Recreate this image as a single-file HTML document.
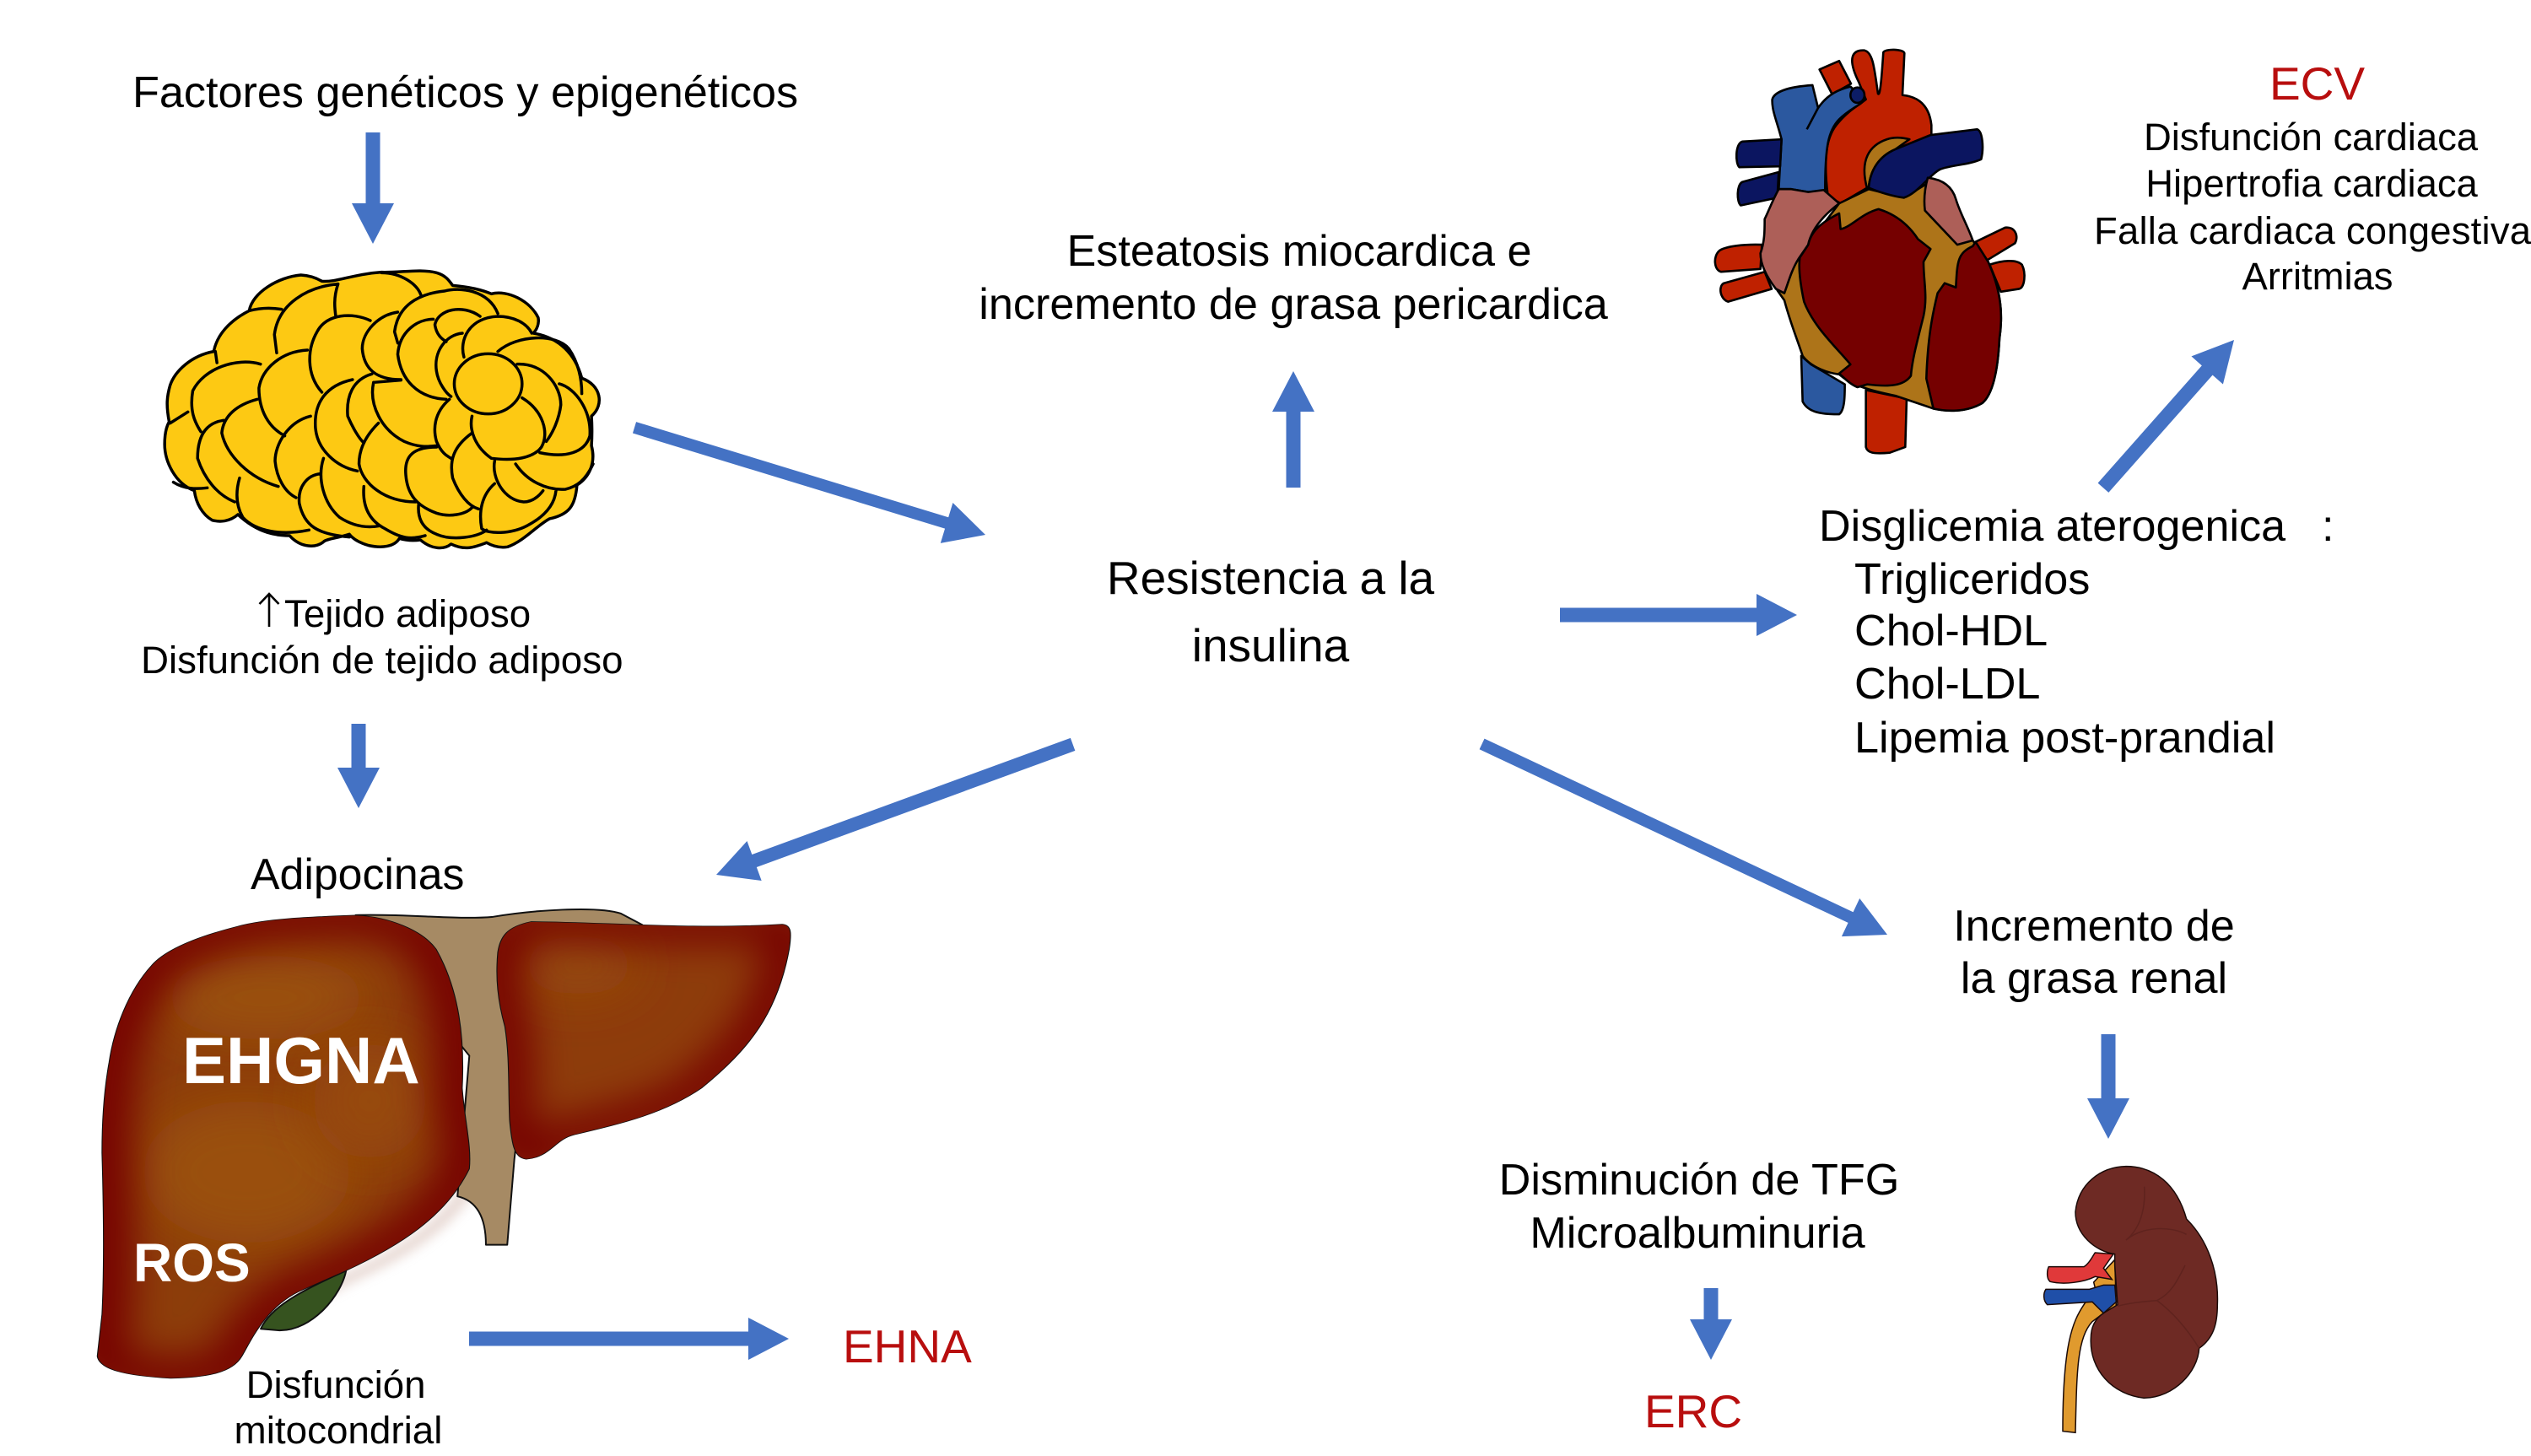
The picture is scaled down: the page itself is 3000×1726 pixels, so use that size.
<!DOCTYPE html>
<html><head><meta charset="utf-8"><style>
html,body{margin:0;padding:0;background:#fff}
svg{display:block}
text{font-family:"Liberation Sans",Arial,sans-serif;fill:#000}
.a{fill:#4472c4}
.c{text-anchor:middle}
.f{fill:none;stroke:#000;stroke-width:3.5;vector-effect:non-scaling-stroke;stroke-linecap:round;stroke-linejoin:round}
.h path,.h ellipse{stroke:#000;stroke-width:2.6;vector-effect:non-scaling-stroke;stroke-linejoin:round}
.l path.o{stroke:#111;stroke-width:2;vector-effect:non-scaling-stroke;stroke-linejoin:round}
.k path{stroke:#1a0a08;stroke-width:1.5;vector-effect:non-scaling-stroke}
</style></head><body>
<svg width="3000" height="1726" viewBox="0 0 3000 1726" xmlns="http://www.w3.org/2000/svg">
<defs>
<filter id="b1" filterUnits="userSpaceOnUse" x="-300" y="-300" width="2200" height="2200"><feGaussianBlur stdDeviation="42 60"/></filter>
<filter id="b2" filterUnits="userSpaceOnUse" x="-300" y="-300" width="2200" height="2200"><feGaussianBlur stdDeviation="50 70"/></filter>
<filter id="b3" filterUnits="userSpaceOnUse" x="-300" y="-300" width="2200" height="2200"><feGaussianBlur stdDeviation="14 18"/></filter>
<path id="rl" d="M590 65C500 70 400 75 340 100C260 130 190 170 160 220C110 300 80 420 70 520C60 600 55 700 55 800C58 950 60 1150 55 1300L45 1430C50 1470 100 1490 200 1498C280 1495 330 1480 350 1430C370 1380 400 1280 470 1230L570 1165C680 1090 780 1000 830 850C835 780 820 700 815 600C820 450 810 300 760 170C730 110 660 70 590 65Z"/>
<path id="ll" d="M960 85C1100 85 1300 110 1490 93C1510 95 1510 120 1505 170C1480 370 1420 480 1320 600C1240 680 1150 710 1050 745C1010 760 1000 815 950 820C925 815 920 780 915 700C912 600 915 500 905 410C890 330 885 260 890 180C895 130 910 100 960 85Z"/>
<clipPath id="crl"><use href="#rl"/></clipPath>
<clipPath id="cll"><use href="#ll"/></clipPath>
</defs>
<rect width="3000" height="1726" fill="#fff"/>

<!-- fat -->
<g transform="translate(150,280) scale(.3827,.3333)">
<path class="f" style="fill:#fdc913" d="M132 660C122 600 125 570 135 530C150 480 200 425 270 410C280 350 320 300 380 265C390 200 470 145 540 138C570 140 590 150 605 160C650 165 700 135 790 128C850 130 910 115 960 130C990 140 1000 160 1010 175C1060 180 1100 190 1130 205C1180 190 1250 230 1275 290C1278 310 1272 330 1260 345C1340 360 1390 420 1410 505C1470 530 1480 600 1440 640C1442 680 1442 710 1440 745C1455 810 1430 860 1395 885C1390 960 1370 990 1310 1005C1270 1030 1230 1085 1180 1105C1150 1110 1130 1100 1115 1090C1080 1105 1050 1120 1005 1095C985 1115 945 1115 910 1080C880 1085 860 1080 845 1075C830 1105 790 1110 750 1100C720 1090 700 1075 690 1060C650 1075 625 1075 612 1085C590 1110 540 1110 505 1065C470 1065 410 1060 345 990C320 1015 290 1018 265 1010C235 990 215 950 210 905C150 880 118 800 118 740C118 710 122 680 132 660Z"/>
<path class="f" d="M380 265Q430 250 480 260M655 170C560 180 470 240 458 350L465 415M655 170C640 220 645 260 648 285M790 130C850 130 900 170 912 210M755 300C700 270 620 275 590 340C560 400 555 490 605 555M840 270C780 280 730 340 730 400C735 470 770 510 850 510M985 195C900 205 840 250 830 340L840 380M950 295C900 295 845 340 840 420C850 510 900 575 990 580M985 195C1030 180 1120 190 1150 275M1095 285C1040 240 965 260 955 315C960 350 975 365 990 375M1040 345C990 350 950 410 960 480C965 520 990 560 1005 570M1045 430C1030 370 1060 290 1150 285C1200 285 1240 310 1255 345M1150 410C1210 350 1330 345 1370 400C1400 450 1410 510 1410 560M1210 455C1290 450 1345 530 1345 600C1340 650 1320 700 1300 730M1340 525C1390 540 1440 620 1435 710C1420 770 1360 790 1280 770M1225 575C1290 620 1310 700 1285 750C1260 790 1200 800 1130 790C1080 750 1060 690 1070 640M1205 810C1240 870 1300 905 1360 900C1395 890 1420 870 1445 810M1140 800C1130 860 1170 940 1230 945C1260 945 1280 920 1290 905M1140 880C1100 920 1090 980 1100 1040C1120 1060 1190 1060 1240 1030C1290 1000 1325 960 1330 905M1070 700C1010 750 1000 800 1010 860C1030 920 1060 960 1090 970M1000 580C950 630 950 690 960 730C975 770 990 780 1005 790M765 520C750 600 790 690 860 730C900 750 930 750 960 745M850 512L765 520M700 510C620 530 580 590 585 680C590 760 650 820 715 835M760 490C700 510 680 570 685 640C700 680 720 720 735 735M780 665C740 710 720 760 720 810C730 880 800 945 895 945M960 750C880 750 860 790 865 850C870 920 900 960 960 985C1000 1000 1050 990 1070 965M905 950C900 1000 915 1040 960 1060C1010 1085 1090 1070 1115 1045M735 890C730 960 750 1010 800 1040C850 1075 880 1080 925 1065M610 790C590 860 610 950 660 1000C700 1030 740 1040 785 1030M600 845C560 850 530 890 535 950C550 1030 590 1060 690 1070M570 640C500 660 460 740 460 800C465 860 490 910 525 930M560 405C480 410 420 470 410 540C410 620 440 680 490 710M405 580C340 600 300 640 295 700C310 780 380 860 470 890M300 655C240 665 220 720 220 790C240 860 280 920 335 945M415 455C340 430 240 470 205 550C195 620 210 660 230 695M190 625L135 665M350 860C340 900 335 950 360 1000C400 1050 480 1065 565 1045M145 875C180 900 215 900 250 895M275 410L280 450"/>
<ellipse class="f" style="fill:#fdc913" cx="1120" cy="525" rx="105" ry="107"/>
</g>

<!-- heart -->
<g class="h" transform="translate(1980,30) scale(.3333,.3378)">
<path fill="#bf2100" d="M325 770C260 768 200 775 175 790C150 810 155 860 180 865L320 855Z"/>
<path fill="#bf2100" d="M335 865L190 905C170 915 175 960 205 970L360 925Z"/>
<path fill="#bf2100" d="M1085 760L1190 710C1225 705 1240 740 1225 765L1125 825Z"/>
<path fill="#bf2100" d="M1135 840C1180 825 1230 820 1250 840C1265 870 1260 920 1240 925L1175 935Z"/>
<path fill="#bf2100" d="M695 1280L695 1480C700 1500 720 1505 780 1500L835 1480L840 1310Z"/>
<path fill="#bf2100" d="M530 155L600 125L642 205L575 242Z"/>
<path fill="#2b589f" d="M465 1160L470 1320C490 1360 540 1365 600 1365C620 1350 620 1300 620 1260L500 1190Z"/>
<path fill="#bf2100" d="M560 600C545 480 550 400 590 350C630 300 670 280 695 260L670 200C625 110 650 85 690 88C720 95 725 150 738 240C745 250 750 200 757 95C762 82 828 82 832 98L825 245C880 250 920 280 928 350L928 390L700 570L605 625Z"/>
<path fill="#2b589f" d="M385 575L395 400C380 340 360 300 362 260C370 230 430 215 505 210L525 290C560 240 600 225 640 215L690 260C680 280 640 290 600 330C560 370 550 430 550 580L490 585L430 575Z"/>
<path fill="none" d="M525 290L485 365"/>
<ellipse fill="#0c1d66" cx="665" cy="245" rx="25" ry="27"/>
<path fill="#0b1560" d="M395 400L255 408C230 415 230 485 245 498L390 495Z"/>
<path fill="#0b1560" d="M385 515L255 550C235 560 235 620 250 632L380 605Z"/>
<path fill="#ad7419" d="M700 575C670 470 710 420 770 400C800 390 830 395 850 400L800 435C740 460 710 510 705 570Z"/>
<path fill="#ad7419" d="M380 930L405 965C425 1040 450 1100 470 1160C500 1200 560 1220 600 1225C640 1260 700 1280 800 1300L935 1345C980 1355 1050 1360 1110 1325C1150 1290 1165 1200 1170 1100C1185 1000 1170 920 1130 830L1075 755L905 560L830 605L705 575L600 625L450 820Z"/>
<path fill="#0b1560" d="M705 570C710 510 740 460 800 435L925 385L1090 365C1110 370 1115 430 1105 470C1060 490 1000 490 960 505C920 525 880 590 830 605C790 600 740 585 705 570Z"/>
<path fill="#ad5f58" d="M385 575L430 575L490 585L545 578L600 625C540 670 500 720 490 770L455 820C430 860 420 900 405 940L375 925C340 880 320 840 320 800C335 760 335 720 335 680C350 650 360 620 385 575Z"/>
<path fill="#ad5f58" d="M915 535C960 540 1000 560 1015 610C1030 660 1060 710 1075 755L1020 770L905 650C900 610 905 570 915 535Z"/>
<path fill="#750000" d="M600 660L605 715C640 710 680 660 740 645C790 660 840 690 880 750L925 785L900 830C900 900 915 950 900 1020C880 1100 860 1170 855 1230C830 1265 780 1270 700 1260L665 1270C640 1260 620 1240 600 1222L640 1190C590 1130 510 1060 475 970C460 900 455 850 460 815L490 770C500 720 540 690 600 660Z"/>
<path fill="#750000" d="M1075 775C1020 800 1020 830 1015 920L975 905L950 940C930 1020 915 1100 910 1240L935 1345C980 1355 1050 1360 1110 1325C1150 1290 1165 1200 1170 1100C1185 1000 1170 920 1130 830L1085 760Z"/>
</g>

<!-- liver -->
<g class="l" transform="translate(90,1060) scale(.5618,.3831)">
<path d="M830 850C780 1000 680 1090 570 1165L470 1240" fill="none" stroke="#c9a69a" stroke-width="26" opacity=".55" filter="url(#b3)" transform="translate(14 16)"/>
<path class="o" fill="#a68a64" d="M590 65C700 60 800 80 880 70C960 50 1100 35 1150 60L1195 95L1100 150L1000 300L950 500L925 820L910 1085L865 1085C865 1010 850 950 805 935L830 500Z"/>
<path class="o" fill="#36531f" d="M570 1165C560 1240 500 1350 430 1350L390 1345C410 1280 470 1230 570 1165Z"/>
<g clip-path="url(#crl)">
<use href="#rl" fill="#8d3d0a"/>
<ellipse cx="400" cy="320" rx="210" ry="130" fill="#9a500e" filter="url(#b2)"/>
<ellipse cx="360" cy="860" rx="220" ry="220" fill="#9a500e" filter="url(#b2)"/>
<ellipse cx="620" cy="640" rx="120" ry="180" fill="#974a0d" filter="url(#b2)"/>
<use href="#rl" fill="none" stroke="#760602" stroke-width="120" filter="url(#b1)"/>
</g>
<use class="o" href="#rl" fill="none" stroke="#111" stroke-width="2" style="vector-effect:non-scaling-stroke"/>
<g clip-path="url(#cll)">
<use href="#ll" fill="#8e3c0b"/>
<ellipse cx="1060" cy="220" rx="120" ry="90" fill="#95480d" filter="url(#b2)"/>
<use href="#ll" fill="none" stroke="#760602" stroke-width="100" filter="url(#b1)"/>
</g>
<use class="o" href="#ll" fill="none" stroke="#111" stroke-width="2" style="vector-effect:non-scaling-stroke"/>
</g>

<!-- kidney -->
<g class="k" transform="translate(2360,1360) scale(.3333)">
<path fill="#e09a2e" d="M440 400L365 480L370 500L330 560C290 620 255 700 255 1010L300 1015C305 800 305 680 360 620L400 590L445 565Z"/>
<path fill="#6e2a24" d="M480 68C580 68 660 130 695 255C770 330 810 440 805 560C805 630 790 680 740 715C735 800 650 890 545 892C430 880 350 790 355 680C355 640 370 610 400 590L450 560L440 420L440 380C370 370 300 310 300 230C310 130 390 70 480 68Z"/>
<path fill="none" style="stroke:#5f231e" d="M545 140C550 220 530 290 480 330M480 330C540 280 640 280 695 310M690 420C660 480 640 520 590 545C520 550 470 560 450 565M590 545C650 590 700 650 740 715"/>
<path fill="#e0393a" d="M205 425L330 425C350 415 365 380 370 375L435 380L400 430L430 470L370 460C330 480 260 490 210 478C195 465 200 435 205 425Z"/>
<path fill="#1f4fa8" d="M195 505L350 505L400 490L440 490L445 550L400 590L360 550L200 560C185 545 185 520 195 505Z"/>
</g>

<!-- arrows -->
<g class="a">
<path transform="translate(442,289) rotate(90)" d="M0 0L-48 -25V-8.5H-132V8.5H-48V25Z"/>
<path transform="translate(425,958) rotate(90)" d="M0 0L-48 -25V-8.5H-100V8.5H-48V25Z"/>
<path transform="translate(1168,634) rotate(17)" d="M0 0L-48 -25V-7H-435V7H-48V25Z"/>
<path transform="translate(1533,440) rotate(-90)" d="M0 0L-48 -25V-8.5H-138V8.5H-48V25Z"/>
<path transform="translate(2130,729) rotate(0)" d="M0 0L-48 -25V-8.5H-281V8.5H-48V25Z"/>
<path transform="translate(2648,403) rotate(-48.5)" d="M0 0L-48 -25V-8.5H-234V8.5H-48V25Z"/>
<path transform="translate(849,1037) rotate(159.9)" d="M0 0L-48 -25V-8H-450V8H-48V25Z"/>
<path transform="translate(2237,1108) rotate(25.2)" d="M0 0L-48 -25V-7H-531V7H-48V25Z"/>
<path transform="translate(2499,1350) rotate(90)" d="M0 0L-48 -25V-8.5H-124V8.5H-48V25Z"/>
<path transform="translate(2028,1612) rotate(90)" d="M0 0L-48 -25V-8.5H-85V8.5H-48V25Z"/>
<path transform="translate(935,1587) rotate(0)" d="M0 0L-48 -25V-8.5H-379V8.5H-48V25Z"/>
</g>
<path d="M319 743V704M307.5 716L319 704L330.5 716" fill="none" stroke="#000" stroke-width="2.6"/>

<!-- text -->
<text x="157" y="127" font-size="52.2">Factores genéticos y epigenéticos</text>
<text x="337" y="743" font-size="45.7">Tejido adiposo</text>
<text x="167" y="798" font-size="45.7">Disfunción de tejido adiposo</text>
<text x="297" y="1054" font-size="51.8">Adipocinas</text>
<text x="216" y="1284" font-size="78" font-weight="700" style="fill:#fff">EHGNA</text>
<text x="158" y="1519" font-size="64" font-weight="700" style="fill:#fff">ROS</text>
<text class="c" x="398" y="1657" font-size="45.6">Disfunción</text>
<text class="c" x="401" y="1711" font-size="45.8">mitocondrial</text>
<text x="999" y="1615" font-size="55" style="fill:#b80e0e">EHNA</text>
<text class="c" x="1506" y="704" font-size="55">Resistencia a la</text>
<text class="c" x="1506" y="784" font-size="55">insulina</text>
<text class="c" x="1540" y="315" font-size="52.2">Esteatosis miocardica e</text>
<text class="c" x="1533" y="378" font-size="52.2">incremento de grasa pericardica</text>
<text x="2690" y="118" font-size="55" style="fill:#b80e0e">ECV</text>
<text class="c" x="2739" y="178" font-size="45.4">Disfunción cardiaca</text>
<text class="c" x="2740" y="233" font-size="45.4">Hipertrofia cardiaca</text>
<text class="c" x="2741" y="289" font-size="45.4" textLength="518">Falla cardiaca congestiva</text>
<text class="c" x="2747" y="343" font-size="45.4">Arritmias</text>
<text x="2156" y="641" font-size="52.1">Disglicemia aterogenica</text>
<text x="2752" y="641" font-size="52.2">:</text>
<text x="2198" y="704" font-size="52.2">Trigliceridos</text>
<text x="2198" y="765" font-size="52.2">Chol-HDL</text>
<text x="2198" y="828" font-size="52.2">Chol-LDL</text>
<text x="2198" y="892" font-size="52.2">Lipemia post-prandial</text>
<text class="c" x="2482" y="1115" font-size="52.2">Incremento de</text>
<text class="c" x="2482" y="1177" font-size="52.2">la grasa renal</text>
<text class="c" x="2014" y="1416" font-size="52.2">Disminución de TFG</text>
<text class="c" x="2012" y="1479" font-size="52.2">Microalbuminuria</text>
<text class="c" x="2007" y="1692" font-size="55" style="fill:#b80e0e">ERC</text>
</svg>
</body></html>
